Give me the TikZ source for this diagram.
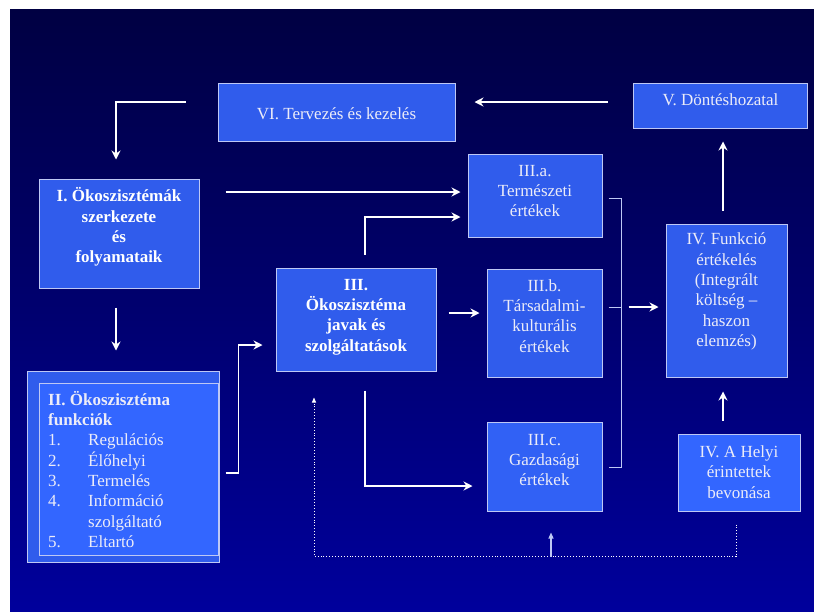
\documentclass[tikz,border=0pt]{standalone}
\usepackage{fontspec}
\setmainfont{Liberation Serif}
\usepackage{tikz}
\usetikzlibrary{arrows.meta,positioning,calc}
\definecolor{bgtop}{RGB}{0,0,66}
\definecolor{bgbot}{RGB}{0,0,156}
\definecolor{boxfill}{RGB}{48,92,236}
\definecolor{boxlight}{RGB}{51,102,255}
\definecolor{boxline}{RGB}{190,200,245}
\definecolor{txtc}{RGB}{236,236,248}
\newcommand{\fitem}[2]{\makebox[40pt][l]{#1}#2}
\tikzset{
  box/.style={draw=boxline, fill=boxfill, line width=1pt, inner sep=0pt},
  lbl/.style={text=txtc, align=center, font=\fontsize{17}{20.3}\selectfont},
  bld/.style={text=white, align=center, font=\fontsize{17}{20.3}\selectfont\bfseries},
  arr/.style={-{Stealth[length=9pt,width=9pt,inset=3pt]}, white, line width=1.4pt},
  brk/.style={boxline, line width=1pt},
  dotl/.style={-{Triangle[length=5pt,width=4pt]}, white, dotted, line width=0.9pt},
  sarr/.style={-{Triangle[length=6pt,width=5pt]}, boxline, line width=1.2pt},
}
\begin{document}
\begin{tikzpicture}[x=1pt, y=-1pt]
        \useasboundingbox (0,0) rectangle (814,611);
        \fill[white] (0,0) rectangle (814,611);
        \shade[top color=bgtop, bottom color=bgbot] (10,9) rectangle (814,611);
        % boxes
        \node[box, minimum width=237, minimum height=58] (vi) at (336.5,112) {};
        \node[box, minimum width=174, minimum height=45] (v) at (720,105.5) {};
        \node[box, minimum width=160, minimum height=109] (okosz) at (119,233.5) {};
        \node[box, minimum width=192, minimum height=191] (fnk) at (123,466.5) {};
        \node[box, fill=boxlight, minimum width=179, minimum height=172] (fnk-in) at (128.5,469) {};
        \node[box, minimum width=160, minimum height=103] (jav) at (356,319.5) {};
        \node[box, minimum width=134, minimum height=83] (ta) at (535,195.5) {};
        \node[box, minimum width=115, minimum height=108] (tb) at (544.5,323) {};
        \node[box, fill=boxfill!50!boxlight, minimum width=115, minimum height=89] (tc) at (544.5,466.5) {};
        \node[box, minimum width=121, minimum height=153] (ert) at (726.5,300.5) {};
        \node[box, fill=boxlight, minimum width=122, minimum height=77] (hely) at (739,472.5) {};
        % texts
        \node[lbl] (vi-t) at (336.5,114) {VI. Tervezés és kezelés};
        \node[lbl] (v-t) at (720.5,100) {V. Döntéshozatal};
        \node[bld] (okosz-t) at (119,227) {I. Ökoszisztémák\\szerkezete\\és\\folyamataik};
        \node[lbl, align=left, anchor=north west, inner sep=0pt] (fnk-t) at (48,391)
          {\textbf{II. Ökoszisztéma}\\\textbf{funkciók}\\\fitem{1.}{Regulációs}\\\fitem{2.}{Élőhelyi}\\
           \fitem{3.}{Termelés}\\\fitem{4.}{Információ}\\\fitem{}{szolgáltató}\\\fitem{5.}{Eltartó}};
        \node[bld] (jav-t) at (356,317) {III.\\Ökoszisztéma\\javak és\\szolgáltatások};
        \node[lbl] (ta-t) at (535,191) {III.a.\\Természeti\\értékek};
        \node[lbl] (tb-t) at (544.5,316) {III.b.\\Társadalmi-\\kulturális\\értékek};
        \node[lbl] (tc-t) at (544.5,460) {III.c.\\Gazdasági\\értékek};
        \node[lbl] (ert-t) at (726.5,291.5) {IV. Funkció\\értékelés\\(Integrált\\költség --\\haszon\\elemzés)};
        \node[lbl] (hely-t) at (739,472) {IV. A Helyi\\érintettek\\bevonása};
        % connectors
        \draw[arr] ($(vi.west)+(-32,-10)$) -| ($(okosz.north)+(-3,-19)$);
        \draw[arr] ($(v.west)+(-25,-3.5)$) -- ($(vi.east)+(19,-10)$);
        \draw[arr] ($(okosz.east)+(26,-41.5)$) -- ($(ta.west)+(-7,-3.5)$);
        \draw[arr] ($(jav.north)+(9,-13)$) |- ($(ta.west)+(-7,21.5)$);
        \draw[arr] ($(okosz.south)+(-3,19)$) -- ($(fnk.north)+(-7,-20)$);
        \draw[arr] ($(fnk.east)+(6,6.5)$) -- ++(13,0) |- ($(jav.west)+(-13,25.5)$);
        \draw[arr] ($(jav.east)+(12,-6.5)$) -- ($(tb.west)+(-7,-10)$);
        \draw[arr] ($(jav.south)+(9,19)$) |- ($(tc.west)+(-14,19.5)$);
        \draw[brk] ($(ta.east)+(6,2.5)$) -- ++(13,0) |- ($(tc.east)+(6,0.5)$);
        \draw[brk] ($(tb.east)+(6,-16)$) -- ++(13,0);
        \draw[arr] ($(tb.east)+(26,-16)$) -- ($(ert.west)+(-7,6.5)$);
        \draw[arr] ($(ert.north)+(-3.5,-13)$) -- ($(v.south)+(3,13)$);
        \draw[arr] ($(hely.north)+(-16,-13)$) -- ($(ert.south)+(-3.5,14)$);
        \draw[dotl] ($(hely.south)+(-3,13)$) -- ++(0,32) -| ($(jav.south)+(-42,26)$);
        \draw[sarr] ($(tc.south)+(6.5,45)$) -- ($(tc.south)+(6.5,21)$);
      \end{tikzpicture}
\end{document}
